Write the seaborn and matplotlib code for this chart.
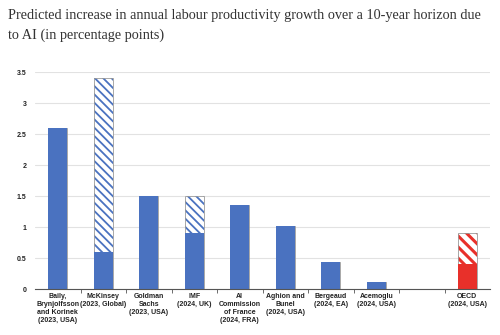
import matplotlib
matplotlib.use("Agg")
import matplotlib.pyplot as plt
import seaborn as sns
import pandas as pd
import numpy as np
from matplotlib.ticker import FixedLocator

categories = ["Baily,\nBrynjolfsson\nand Korinek\n(2023, USA)", "McKinsey\n(2023, Global)",
              "Goldman\nSachs\n(2023, USA)", "IMF\n(2024, UK)",
              "AI\nCommission\nof France\n(2024, FRA)", "Aghion and\nBunel\n(2024, USA)",
              "Bergeaud\n(2024, EA)", "Acemoglu\n(2024, USA)", " ", "OECD\n(2024, USA)"]
base_values = [2.6, 0.6, 1.5, 0.9, 1.35, 1.02, 0.44, 0.11, np.nan, 0.4]
upper_values = [2.6, 3.4, 1.5, 1.5, 1.35, 1.02, 0.44, 0.11, np.nan, 0.9]
yticks = [0, 0.5, 1, 1.5, 2, 2.5, 3, 3.5]
ytick_labels = ["0", "0.5", "1", "1.5", "2", "2.5", "3", "3.5"]

BLUE = "#4A72C0"
RED = "#E8302A"
palette = {c: BLUE for c in categories}
palette["OECD\n(2024, USA)"] = RED

df = pd.DataFrame({"cat": categories, "base": base_values, "upper": upper_values}).dropna()

sns.set_style("white")
plt.rcParams["font.family"] = ["Liberation Sans", "DejaVu Sans"]
plt.rcParams["hatch.linewidth"] = 1.3

fig = plt.figure(figsize=(5, 3.35), dpi=100)
ax = fig.add_axes([0.07, 0.137, 0.91, 0.648])

# upper (hatched) range
sns.barplot(data=df, x="cat", y="upper", hue="cat", palette=palette, order=categories,
            hue_order=categories, legend=False, width=0.42, ax=ax, linewidth=0,
            saturation=1)
n_first = len(ax.patches)
for p in ax.patches:
    fc = p.get_facecolor()
    is_red = fc[0] > 0.8
    p.set_facecolor("white")
    p.set_edgecolor(fc)
    p.set_linewidth(0)
    p.set_hatch("\\\\\\" if is_red else "\\\\\\\\")
    try:
        p.set_hatch_linewidth(2.2 if is_red else 1.3)
    except Exception:
        pass
    p.set_zorder(2)

# thin outline of the full range
sns.barplot(data=df, x="cat", y="upper", hue="cat", palette=palette, order=categories,
            hue_order=categories, legend=False, width=0.42, ax=ax, linewidth=0.6,
            saturation=1, fill=False)
n_second = len(ax.patches)
for p in ax.patches[n_first:n_second]:
    p.set_edgecolor("#9a9a9a")
    p.set_zorder(2.5)

# base (solid) values
sns.barplot(data=df, x="cat", y="base", hue="cat", palette=palette, order=categories,
            hue_order=categories, legend=False, width=0.42, ax=ax, linewidth=0,
            saturation=1)
for p in ax.patches[n_second:]:
    p.set_zorder(3)

ax.set_xlim(-0.5, len(categories) - 0.5)
ax.set_ylim(0, 3.5)
ax.set_yticks(yticks)
ax.set_yticklabels(ytick_labels)
ax.set_xlabel("")
ax.set_ylabel("")
ax.grid(axis="y", color="#e2e2e2", linewidth=0.8, zorder=0)
ax.set_axisbelow(True)
for s in ["top", "right", "left"]:
    ax.spines[s].set_visible(False)
ax.spines["bottom"].set_color("#555555")
ax.spines["bottom"].set_linewidth(0.8)
ax.spines["bottom"].set_zorder(5)

ax.xaxis.set_minor_locator(FixedLocator(np.arange(0.5, len(categories) - 0.5, 1.0)))
ax.tick_params(axis="x", which="major", length=0, pad=3, labelsize=5.0, colors="#222222")
ax.tick_params(axis="x", which="minor", length=3, width=0.6, color="#555555", direction="out", bottom=True)
ax.tick_params(axis="y", length=0, pad=6, labelsize=5.0, colors="#222222")
for lbl in ax.get_xticklabels() + ax.get_yticklabels():
    lbl.set_fontweight("bold")
    lbl.set_linespacing(1.15)

fig.text(0.016, 0.972, "Predicted increase in annual labour productivity growth over a 10-year horizon due\nto AI (in percentage points)",
         ha="left", va="top", fontsize=10.3, family=["Liberation Serif"], color="#333333", linespacing=1.55)

fig.savefig("out.png", dpi=100)
